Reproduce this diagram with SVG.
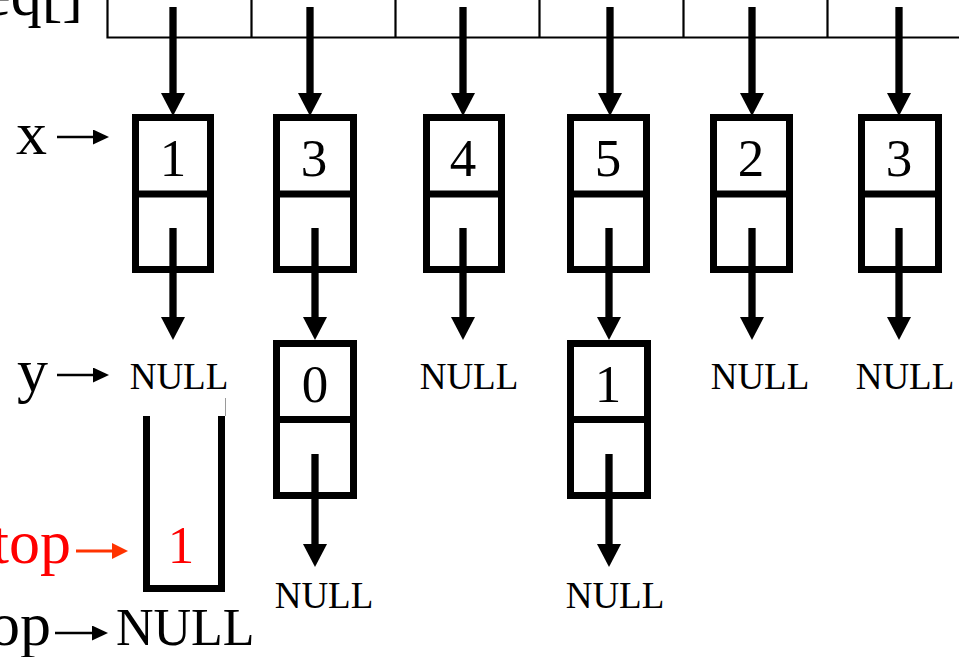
<svg xmlns="http://www.w3.org/2000/svg" width="959" height="657" viewBox="0 0 959 657">
<style>
text{font-family:"Liberation Serif","Times New Roman",serif;fill:#000}
.lbl{font-size:62px}
.dig{font-size:53px;text-anchor:middle}
.nul{font-size:37px;text-anchor:middle}
.box{fill:none;stroke:#000;stroke-width:7}
.arr{fill:none;stroke:#000;stroke-width:7.3}
.thin{fill:none;stroke:#000;stroke-width:2.6}
.red{fill:#ff0000}
.grid{fill:none;stroke:#000;stroke-width:2.2}
</style>
<defs>
<marker id="ah" markerUnits="userSpaceOnUse" viewBox="0 0 23 24" markerWidth="23" markerHeight="24" refX="11" refY="12" orient="auto"><path d="M0,0 L23,12 L0,24 z" fill="#000"/></marker>
<marker id="at" markerUnits="userSpaceOnUse" viewBox="0 0 16 15" markerWidth="16" markerHeight="15" refX="6" refY="7.5" orient="auto"><path d="M0,0 L16,7.5 L0,15 z" fill="#000"/></marker>
<marker id="atr" markerUnits="userSpaceOnUse" viewBox="0 0 16 16" markerWidth="16" markerHeight="16" refX="6" refY="8" orient="auto"><path d="M0,0 L16,8 L0,16 z" fill="#ff3300"/></marker>
</defs>

<g id="array">
<path class="grid" d="M107.5,-5 V37.5 H965 M251.5,-5 V37.5 M395.5,-5 V37.5 M539.5,-5 V37.5 M683.5,-5 V37.5 M827.5,-5 V37.5"/>
<text class="lbl" x="83" y="15" text-anchor="end">eq[]</text>
</g>

<g id="labels">
<text class="lbl" x="16" y="154">x</text>
<text class="lbl" x="17" y="391">y</text>
<text class="lbl red" x="71" y="563" text-anchor="end">top</text>
<text class="lbl" x="51" y="645" text-anchor="end">op</text>
<text x="116" y="645" style="font-size:52px">NULL</text>
</g>

<g id="node1"><rect class="box" x="135.5" y="117.5" width="75" height="152"/><line class="box" x1="132" y1="194" x2="214" y2="194"/><text class="dig" x="173" y="176">1</text></g>
<g id="node2"><rect class="box" x="276.5" y="117.5" width="77" height="152"/><line class="box" x1="273" y1="194" x2="357" y2="194"/><text class="dig" x="314" y="176">3</text></g>
<g id="node3"><rect class="box" x="426.5" y="117.5" width="75" height="152"/><line class="box" x1="423" y1="194" x2="505" y2="194"/><text class="dig" x="463" y="176">4</text></g>
<g id="node4"><rect class="box" x="570.5" y="117.5" width="76" height="152"/><line class="box" x1="567" y1="194" x2="650" y2="194"/><text class="dig" x="608" y="176">5</text></g>
<g id="node5"><rect class="box" x="713.5" y="117.5" width="76" height="152"/><line class="box" x1="710" y1="194" x2="793" y2="194"/><text class="dig" x="751" y="176">2</text></g>
<g id="node6"><rect class="box" x="861.5" y="117.5" width="77" height="152"/><line class="box" x1="858" y1="194" x2="942" y2="194"/><text class="dig" x="899" y="176">3</text></g>

<g id="node7"><rect class="box" x="276.5" y="343.5" width="77" height="152"/><line class="box" x1="273" y1="419.5" x2="357" y2="419.5"/><text class="dig" x="315" y="402">0</text></g>
<g id="node8"><rect class="box" x="570.5" y="343.5" width="77" height="152"/><line class="box" x1="567" y1="419.5" x2="651" y2="419.5"/><text class="dig" x="608" y="402">1</text></g>

<g id="nulls">
<text class="nul" x="179" y="389">NULL</text>
<text class="nul" x="469" y="389">NULL</text>
<text class="nul" x="760" y="389">NULL</text>
<text class="nul" x="905" y="389">NULL</text>
<text class="nul" x="324" y="608">NULL</text>
<text class="nul" x="615" y="608">NULL</text>
</g>

<g id="stack">
<path d="M146.5,416 V588.5 H221.5 V416" fill="none" stroke="#000" stroke-width="7"/>
<line x1="225.5" y1="398" x2="225.5" y2="416" stroke="#9a9a9a" stroke-width="1"/>
<text class="dig red" x="181" y="563">1</text>
</g>

<g id="connectors">
<line class="arr" x1="173" y1="7" x2="173" y2="104" marker-end="url(#ah)"/>
<line class="arr" x1="310" y1="7" x2="310" y2="104" marker-end="url(#ah)"/>
<line class="arr" x1="463" y1="7" x2="463" y2="104" marker-end="url(#ah)"/>
<line class="arr" x1="610" y1="7" x2="610" y2="104" marker-end="url(#ah)"/>
<line class="arr" x1="752" y1="7" x2="752" y2="104" marker-end="url(#ah)"/>
<line class="arr" x1="899" y1="7" x2="899" y2="104" marker-end="url(#ah)"/>

<line class="arr" x1="173" y1="228" x2="173" y2="328" marker-end="url(#ah)"/>
<line class="arr" x1="315" y1="228" x2="315" y2="328" marker-end="url(#ah)"/>
<line class="arr" x1="463" y1="228" x2="463" y2="328" marker-end="url(#ah)"/>
<line class="arr" x1="609" y1="228" x2="609" y2="328" marker-end="url(#ah)"/>
<line class="arr" x1="752" y1="228" x2="752" y2="328" marker-end="url(#ah)"/>
<line class="arr" x1="899" y1="228" x2="899" y2="328" marker-end="url(#ah)"/>

<line class="arr" x1="315" y1="454" x2="315" y2="555" marker-end="url(#ah)"/>
<line class="arr" x1="609" y1="454" x2="609" y2="555" marker-end="url(#ah)"/>

<line class="thin" x1="57" y1="137" x2="99" y2="137" marker-end="url(#at)"/>
<line class="thin" x1="57" y1="375" x2="99" y2="375" marker-end="url(#at)"/>
<line class="thin" x1="55" y1="633" x2="98" y2="633" marker-end="url(#at)"/>
<line x1="76" y1="551" x2="118" y2="551" stroke="#ff3300" stroke-width="2.8" marker-end="url(#atr)"/>
</g>
</svg>
